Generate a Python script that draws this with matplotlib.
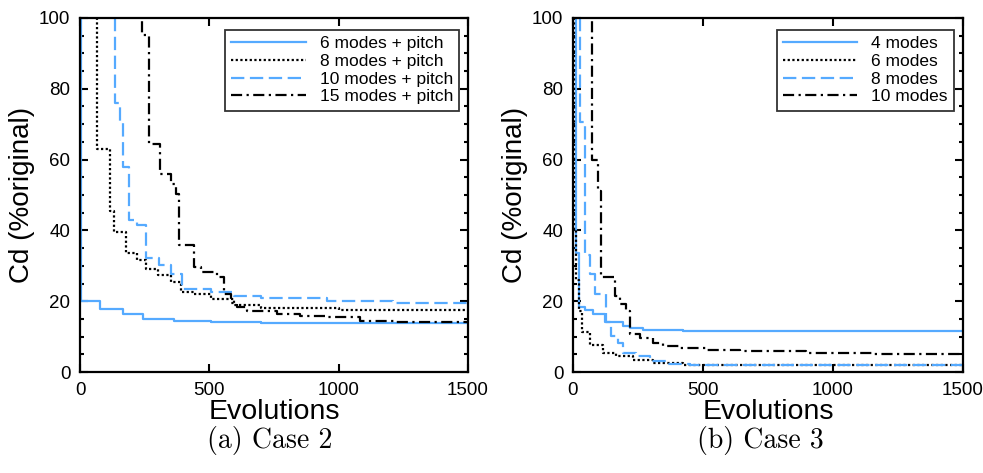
import matplotlib.pyplot as plt
from matplotlib.ticker import MultipleLocator

plt.rcParams["font.family"] = ["Liberation Sans", "DejaVu Sans"]

BLUE = "#55aaff"

# ---- Case 2 data (step curves, x = evolutions, y = Cd %original) ----
c2_6_x = [5, 5, 78, 165, 242, 364, 505, 698, 1000, 1500]
c2_6_y = [150, 20, 17.8, 16.4, 15.0, 14.5, 14.1, 13.9, 13.8, 13.8]
c2_8_x = [64, 64, 116, 131, 177, 222, 255, 300, 351, 390, 440, 505, 594, 698, 1000, 1500]
c2_8_y = [150, 63, 45.4, 39.5, 33.5, 31.5, 29.2, 27.5, 25.4, 22.6, 22.0, 20.5, 18.8, 18.0, 17.6, 17.5]
c2_10_x = [136, 136, 155, 167, 190, 222, 255, 306, 351, 396, 505, 594, 698, 955, 1211, 1500]
c2_10_y = [150, 76, 70.3, 58, 43.0, 41.6, 32.1, 30.2, 27.8, 23.5, 22.5, 21.5, 20.8, 20.0, 19.4, 18.8]
c2_15_x = [239, 239, 267, 310, 351, 370, 383, 441, 467, 531, 556, 582, 608, 647, 762, 852, 955,
           1084, 1212, 1500]
c2_15_y = [150, 95.2, 64.4, 56, 53, 50.3, 35.9, 29.7, 28.3, 26.9, 22, 19.5, 18.3, 17.3, 16.4,
           15.9, 15.4, 14.5, 14.2, 14.2]

# ---- Case 3 data ----
c3_4_x = [5, 5, 12, 23, 45, 77, 122, 192, 218, 269, 423, 1500]
c3_4_y = [150, 100, 33.5, 18.3, 17.5, 16.4, 14.0, 13.0, 12.5, 11.9, 11.6, 11.6]
c3_6_x = [3, 3, 13, 23, 36, 64, 115, 167, 231, 308, 423, 1500]
c3_6_y = [150, 40, 25.9, 17.3, 11.3, 7.6, 5.4, 4.5, 3.5, 2.6, 2.1, 2.0]
c3_8_x = [26, 26, 45, 64, 83, 128, 147, 173, 192, 244, 295, 359, 449, 1500]
c3_8_y = [150, 70.6, 33.0, 27.8, 22.1, 14.0, 10.2, 8.3, 5.4, 4.5, 3.0, 2.3, 2.0, 1.9]
c3_10_x = [73, 73, 96, 109, 160, 179, 205, 218, 256, 308, 346, 410, 513, 641, 897, 1154, 1500]
c3_10_y = [150, 59.8, 51, 26.9, 21.6, 19.2, 17.3, 10.7, 9.7, 8.3, 7.3, 6.9, 6.2, 5.8, 5.4, 5.1, 5.1]

labels_c2 = ["6 modes + pitch", "8 modes + pitch", "10 modes + pitch", "15 modes + pitch"]
labels_c3 = ["4 modes", "6 modes", "8 modes", "10 modes"]

styles = [
    dict(color=BLUE, ls="-"),
    dict(color="black", ls=(0, (1, 1.1))),
    dict(color=BLUE, ls=(0, (6, 2.5))),
    dict(color="black", ls=(0, (5, 2, 1, 2))),
]


def style_axes(ax):
    ax.set_xlim(0, 1500)
    ax.set_ylim(0, 100)
    ax.xaxis.set_major_locator(MultipleLocator(500))
    ax.yaxis.set_major_locator(MultipleLocator(20))
    ax.yaxis.set_minor_locator(MultipleLocator(5))
    ax.tick_params(which="both", direction="in", top=True, right=True, width=1.5,
                   labelsize=13.5, pad=7)
    ax.tick_params(which="major", length=6)
    ax.tick_params(which="minor", length=3)
    for s in ax.spines.values():
        s.set_linewidth(1.6)
    ax.set_xlabel("Evolutions", fontsize=20.5, labelpad=0)


fig = plt.figure(figsize=(9.83, 4.73), dpi=100)
ax1 = fig.add_axes([80 / 983, 101 / 473, 388 / 983, 354 / 473])
ax2 = fig.add_axes([573 / 983, 101 / 473, 390 / 983, 354 / 473])

series_c2 = [(c2_6_x, c2_6_y), (c2_8_x, c2_8_y), (c2_10_x, c2_10_y), (c2_15_x, c2_15_y)]
series_c3 = [(c3_4_x, c3_4_y), (c3_6_x, c3_6_y), (c3_8_x, c3_8_y), (c3_10_x, c3_10_y)]

for ax, series, labels in [(ax1, series_c2, labels_c2), (ax2, series_c3, labels_c3)]:
    for (x, y), lab, st in zip(series, labels, styles):
        ax.step(x, y, where="post", lw=1.6, label=lab, **st)
    style_axes(ax)
    ax.set_ylabel("Cd (%original)", fontsize=20, labelpad=3)
    leg = ax.legend(loc="upper right", bbox_to_anchor=(1 - 9 / 388, 1 - 12 / 354),
                    fontsize=12.5, handlelength=4.3, frameon=True,
                    fancybox=False, edgecolor="black", borderaxespad=0,
                    labelspacing=0.15, borderpad=0.35, handletextpad=0.8)
    leg.get_frame().set_linewidth(1.3)
    # left-align the labels like the original figure
    for col in leg._legend_handle_box.get_children():
        col.align = "left"

fig.text(270 / 983, 1 - 440 / 473, "(a) Case 2", family="cmr10", fontsize=20,
         ha="center", va="center")
fig.text(760 / 983, 1 - 440 / 473, "(b) Case 3", family="cmr10", fontsize=20,
         ha="center", va="center")

fig.savefig("out.png", dpi=100)
